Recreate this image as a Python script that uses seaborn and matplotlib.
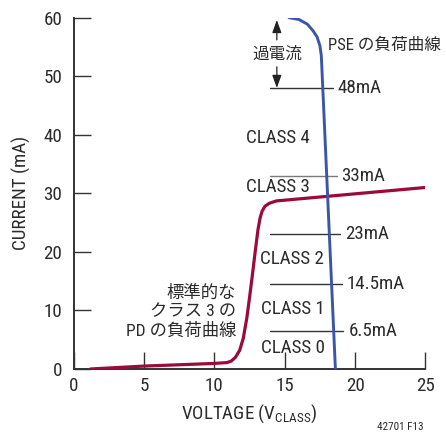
import matplotlib
matplotlib.use("Agg")
import matplotlib.pyplot as plt
import seaborn as sns
import pandas as pd

# PD (class 3) load line: voltage (V) and current (mA)
pd_voltage = [1.2, 5.0, 10.0, 10.9, 11.2, 11.5, 11.8, 12.05, 12.3, 12.5, 12.7,
              12.9, 13.1, 13.25, 13.4, 13.6, 13.9, 14.4, 25.0]
pd_current = [0.0, 0.5, 0.95, 1.1, 1.35, 2.0, 3.2, 5.2, 8.6, 12.2, 16.0,
              20.0, 23.8, 25.8, 27.0, 27.8, 28.3, 28.7, 31.0]

# PSE load line
pse_voltage = [15.3, 16.0, 16.6, 17.0, 17.3, 17.5, 17.6, 18.6]
pse_current = [60.0, 59.7, 58.9, 57.8, 56.7, 55.2, 53.5, 0.0]

# classification current thresholds (mA) and their labels
class_limits = [48.0, 33.0, 23.0, 14.5, 6.5]
class_limit_labels = ["48mA", "33mA", "23mA", "14.5mA", "6.5mA"]
class_line_end = [18.4, 18.7, 18.95, 19.07, 19.15]
class_label_x = [18.73, 18.99, 19.30, 19.42, 19.53]

# class names and where they sit
class_names = ["CLASS 4", "CLASS 3", "CLASS 2", "CLASS 1", "CLASS 0"]
class_name_x = [12.24, 12.24, 13.25, 13.33, 13.33]
class_name_y = [39.4, 31.0, 18.7, 10.2, 3.6]

x_ticks = [0, 5, 10, 15, 20, 25]
y_ticks = [0, 10, 20, 30, 40, 50, 60]

sns.set_theme(style="ticks")
plt.rcParams["font.family"] = ["Roboto Condensed", "Noto Sans CJK JP", "DejaVu Sans"]
plt.rcParams["mathtext.fontset"] = "custom"
plt.rcParams["mathtext.rm"] = "Roboto Condensed"

TEXT = "#2b2b2b"
RED = "#9b0b3a"
BLUE = "#3a56a8"
FS = 13.7

fig = plt.figure(figsize=(4.46, 4.37), dpi=100)
ax = fig.add_axes([0.165, 0.1556, 0.789, 0.804])

pd_df = pd.DataFrame({"v": pd_voltage, "i": pd_current})
pse_df = pd.DataFrame({"v": pse_voltage, "i": pse_current})

# threshold lines
for lim, end in zip(class_limits, class_line_end):
    col = "#7a7a7a" if lim == 33.0 else "#333333"
    ax.plot([13.92, end], [lim, lim], color=col, lw=1.0, zorder=2)
for lim, lab, lx in zip(class_limits, class_limit_labels, class_label_x):
    ax.text(lx, lim, lab, fontsize=FS, color=TEXT, ha="left", va="center")

sns.lineplot(data=pd_df, x="v", y="i", sort=False, estimator=None,
             color=RED, lw=2.3, ax=ax, zorder=3)
sns.lineplot(data=pse_df, x="v", y="i", sort=False, estimator=None,
             color=BLUE, lw=2.1, ax=ax, zorder=4)

for name, nx, ny in zip(class_names, class_name_x, class_name_y):
    ax.text(nx, ny, name, fontsize=FS, color=TEXT, ha="left", va="center")

# over-current span indicator
ax.annotate("", xy=(14.44, 59.6), xytext=(14.44, 56.2),
            arrowprops=dict(arrowstyle="-|>,head_length=0.55,head_width=0.2",
                            color="#222222", lw=0.9,
                            mutation_scale=14, shrinkA=0, shrinkB=0))
ax.annotate("", xy=(14.44, 48.0), xytext=(14.44, 51.6),
            arrowprops=dict(arrowstyle="-|>,head_length=0.55,head_width=0.2",
                            color="#222222", lw=0.9,
                            mutation_scale=14, shrinkA=0, shrinkB=0))
ax.text(14.44, 53.8, "過電流", fontsize=12, color=TEXT, ha="center", va="center")

ax.text(18.05, 55.3, "PSE の負荷曲線", fontsize=12, color=TEXT, ha="left", va="center")
ax.text(11.55, 9.8, "標準的な\nクラス 3 の\nPD の負荷曲線", fontsize=12.5, color=TEXT,
        ha="right", va="center", multialignment="right", linespacing=1.3)

ax.set_xlim(0, 25)
ax.set_ylim(0, 60)
ax.set_xticks(x_ticks)
ax.set_yticks(y_ticks)
ax.tick_params(axis="both", direction="in", length=12, width=1.0, color="#333333",
               labelsize=FS, labelcolor=TEXT)
ax.tick_params(axis="y", pad=8)
ax.tick_params(axis="x", pad=6)
for s in ["top", "right"]:
    ax.spines[s].set_visible(False)
for s in ["left", "bottom"]:
    ax.spines[s].set_color("#333333")
    ax.spines[s].set_linewidth(1.4)

ax.set_xlabel(r"VOLTAGE (V$_{\mathregular{CLASS}}$)", fontsize=FS, color=TEXT, labelpad=5)
ax.set_ylabel("CURRENT (mA)", fontsize=FS, color=TEXT, labelpad=9)

fig.text(0.95, 0.012, "42701 F13", fontsize=8, color=TEXT, ha="right", va="bottom")

fig.savefig("out.png", dpi=100)
